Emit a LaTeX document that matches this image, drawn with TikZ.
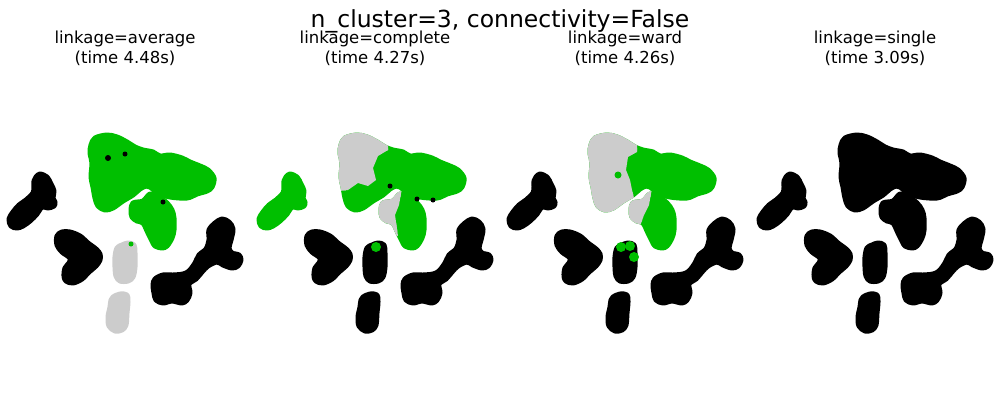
\documentclass[tikz,border=0pt]{standalone}
\usepackage{fontspec}
\setmainfont{DejaVu Sans}
\definecolor{ggreen}{RGB}{0,191,0}
\definecolor{ggray}{RGB}{204,204,204}
\tikzset{
  ttl/.style={anchor=base,inner sep=0pt,font=\fontsize{23.5}{26}\selectfont},
  sub/.style={anchor=base,inner sep=0pt,font=\fontsize{16.5}{20}\selectfont},
  blobby/.style={smooth cycle,tension=0.55},
  fat/.style={fill=#1,draw=#1,line width=5pt,line join=round},
}
\newcommand\blob[2]{\foreach \x/\y/\r in {#2} \fill[#1] (\x,\y) circle[radius=\r pt];}
\newcommand\shapeB[1]{\path[#1] plot[blobby] coordinates {(95,138) (107,135) (117,137) (127,142) (135,147) (143,150) (153,152) (160,156) (170,155) (182,158) (190,162) (200,166) (208,170) (214,178) (212,187) (207,191) (197,194) (187,198) (170,197) (158,193) (150,187) (146,186) (140,189) (133,195) (123,201) (113,208) (105,210) (98,206) (95,198) (93,187) (91,177) (92,163) (90,153) (91,145)};}
\newcommand\shapeC[1]{\path[#1] plot[blobby] coordinates {(133,203) (143,201) (150,194) (158,196) (167,203) (172,210) (174,218) (174,230) (172,238) (167,246) (162,248) (155,246) (152,241) (148,233) (143,223) (137,221) (132,217) (131,210)};}
\newcommand\drawclusters{%
  % A: left diagonal
  \path[fat=cA] plot[blobby] coordinates {(40,174) (47,177) (51,184) (54,191) (53,198) (55,202) (54,206) (48,208) (42,207) (37,214) (30,221) (23,226) (17,228) (11,226) (9,219) (13,212) (19,205) (26,200) (33,193) (34,187) (34,181) (36,177)};
  % B and C: top cluster and its extension
  \shapeB{fat=cB}
  \shapeC{fat=cC}
  % D: V shape
  \path[fat=cD] plot[blobby] coordinates {(57,236) (62,232) (70,232) (80,236) (88,243) (96,249) (100,254) (100,260) (96,266) (89,272) (82,279) (73,283) (66,281) (64,276) (65,268) (69,263) (70,258) (62,252) (57,245)};
  % E: middle vertical
  \path[fat=cE] plot[blobby] coordinates {(117,248) (122,245) (128,243) (134,245) (135,253) (135,267) (133,277) (128,281) (120,281) (116,276) (115,267) (115,257)};
  % F: bottom
  \path[fat=cF] plot[blobby] coordinates {(113,297) (120,294) (127,295) (128,302) (127,313) (126,325) (122,330) (115,331) (109,326) (108,317) (110,307) (111,300)};
  % G: right cluster
  \path[fat=cG] plot[blobby] coordinates {(155,279) (163,275) (173,275) (183,274) (189,271) (195,263) (199,255) (206,249) (209,240) (209,230) (215,223) (222,219) (229,222) (233,229) (231,240) (229,248) (232,253) (239,255) (241,260) (238,266) (232,268) (223,265) (217,262) (208,266) (202,272) (196,279) (189,284) (190,293) (187,300) (182,303) (172,301) (163,303) (156,300) (154,293) (153,285)};
}
\begin{document}
\begin{tikzpicture}[x=1pt,y=-1pt]
\useasboundingbox (0,0) rectangle (1000,400);
% panel 1: average
\begin{scope}[xshift=0pt]
  \colorlet{cA}{black}\colorlet{cB}{ggreen}\colorlet{cC}{ggreen}\colorlet{cD}{black}
  \colorlet{cE}{ggray}\colorlet{cF}{ggray}\colorlet{cG}{black}
  \drawclusters
  \blob{black}{108/158/3, 125/154/2.5, 163/202/2.5}
  \blob{ggreen}{131/244/2.5}
\end{scope}
% panel 2: complete
\begin{scope}[xshift=250pt]
  \colorlet{cA}{ggreen}\colorlet{cB}{ggreen}\colorlet{cC}{ggreen}\colorlet{cD}{black}
  \colorlet{cE}{black}\colorlet{cF}{black}\colorlet{cG}{black}
  \drawclusters
  \begin{scope}
    \clip (80,125) -- (138,125) -- (138,150) -- (128,156) -- (123,168) -- (126,180) -- (118,186) -- (108,183) -- (98,190) -- (80,192) -- cycle;
    \shapeB{fat=ggray}
  \end{scope}
  \begin{scope}
    \clip (120,188) -- (152,188) -- (149,205) -- (145,215) -- (148,236) -- (140,236) -- (120,230) -- cycle;
    \shapeC{fat=ggray}
  \end{scope}
  \blob{black}{140/186/2.5, 167/199/2.5, 183/200/2.5}
  \blob{ggreen}{126/247/5}
\end{scope}
% panel 3: ward
\begin{scope}[xshift=500pt]
  \colorlet{cA}{black}\colorlet{cB}{ggreen}\colorlet{cC}{ggreen}\colorlet{cD}{black}
  \colorlet{cE}{black}\colorlet{cF}{black}\colorlet{cG}{black}
  \drawclusters
  \begin{scope}
    \clip (80,125) -- (138,125) -- (137,152) -- (128,157) -- (126,170) -- (130,180) -- (132,190) -- (134,198) -- (130,225) -- (80,225) -- cycle;
    \shapeB{fat=ggray}
  \end{scope}
  \begin{scope}
    \clip (120,188) -- (152,188) -- (149,205) -- (144,215) -- (140,226) -- (120,228) -- cycle;
    \shapeC{fat=ggray}
  \end{scope}
  \blob{ggreen}{118/175/3.5, 121/247/5, 130/246/5, 134/257/5}
\end{scope}
% panel 4: single
\begin{scope}[xshift=750pt]
  \colorlet{cA}{black}\colorlet{cB}{black}\colorlet{cC}{black}\colorlet{cD}{black}
  \colorlet{cE}{black}\colorlet{cF}{black}\colorlet{cG}{black}
  \drawclusters
\end{scope}
% titles
\node[sub] (s1a) at (125,43) {linkage=average};
\node[sub] (s1b) at (125,63) {(time 4.48s)};
\node[sub] (s2a) at (375,43) {linkage=complete};
\node[sub] (s2b) at (375,63) {(time 4.27s)};
\node[sub] (s3a) at (625,43) {linkage=ward};
\node[sub] (s3b) at (625,63) {(time 4.26s)};
\node[sub] (s4a) at (875,43) {linkage=single};
\node[sub] (s4b) at (875,63) {(time 3.09s)};
\node[ttl] (title) at (500,27) {n\_cluster=3, connectivity=False};
\end{tikzpicture}
\end{document}
